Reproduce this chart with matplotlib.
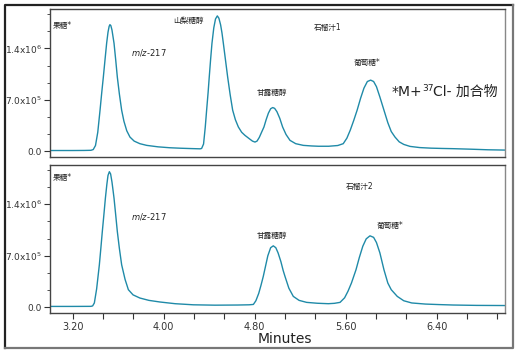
import matplotlib
matplotlib.use("Agg")
import matplotlib.pyplot as plt
from matplotlib.ticker import MultipleLocator, FixedLocator, FuncFormatter
from matplotlib.lines import Line2D

plt.rcParams['font.family'] = ['DejaVu Sans', 'Noto Sans CJK SC']

# chromatogram traces: time (min), intensity (x1e6)
t_top = [3.00, 3.20, 3.30, 3.36, 3.38, 3.40, 3.42, 3.44, 3.455, 3.469, 3.484, 3.498,
         3.51, 3.52, 3.527, 3.535, 3.545, 3.555, 3.563, 3.578, 3.592, 3.61, 3.63,
         3.65, 3.675, 3.703, 3.74, 3.79, 3.85, 3.95, 4.05, 4.15, 4.25, 4.32, 4.333,
         4.35, 4.365, 4.377, 4.39, 4.40, 4.412, 4.424, 4.44, 4.455, 4.471, 4.485,
         4.50, 4.512, 4.524, 4.543, 4.562, 4.584, 4.606, 4.63, 4.656, 4.685, 4.714,
         4.75, 4.78, 4.802, 4.82, 4.84, 4.86, 4.881, 4.90, 4.92, 4.94, 4.958, 4.975,
         4.995, 5.02, 5.045, 5.075, 5.11, 5.16, 5.227, 5.30, 5.36, 5.45, 5.53, 5.578,
         5.61, 5.64, 5.67, 5.70, 5.73, 5.76, 5.79, 5.819, 5.845, 5.87, 5.90, 5.936,
         5.97, 6.00, 6.033, 6.07, 6.11, 6.165, 6.25, 6.35, 6.45, 6.546, 6.70, 6.85, 7.00]
i_top = [0.012, 0.012, 0.013, 0.015, 0.025, 0.08, 0.26, 0.56, 0.80, 1.01, 1.25, 1.47,
         1.62, 1.70, 1.723, 1.71, 1.65, 1.55, 1.47, 1.24, 1.01, 0.78, 0.56,
         0.41, 0.28, 0.195, 0.14, 0.105, 0.082, 0.062, 0.050, 0.043, 0.038, 0.035, 0.04,
         0.10, 0.33, 0.56, 0.80, 1.01, 1.25, 1.47, 1.68, 1.80, 1.842, 1.81,
         1.72, 1.61, 1.47, 1.24, 1.01, 0.77, 0.56, 0.43, 0.332, 0.26, 0.218,
         0.175, 0.14, 0.127, 0.14, 0.19, 0.26, 0.332, 0.43, 0.52, 0.58, 0.596, 0.585,
         0.54, 0.45, 0.332, 0.23, 0.15, 0.105, 0.082, 0.074, 0.07, 0.07, 0.08, 0.105,
         0.18, 0.29, 0.42, 0.56, 0.72, 0.86, 0.95, 0.969, 0.95, 0.88, 0.74, 0.56,
         0.39, 0.27, 0.195, 0.13, 0.095, 0.068, 0.052, 0.044, 0.040, 0.037, 0.030, 0.022, 0.018]

t_bot = [3.00, 3.20, 3.36, 3.375, 3.39, 3.41, 3.434, 3.447, 3.46, 3.474, 3.487, 3.50,
         3.51, 3.522, 3.533, 3.545, 3.555, 3.563, 3.578, 3.592, 3.61, 3.63, 3.66,
         3.689, 3.73, 3.79, 3.87, 3.967, 4.10, 4.26, 4.45, 4.65, 4.75, 4.788, 4.81,
         4.835, 4.855, 4.875, 4.895, 4.915, 4.94, 4.963, 4.985, 5.005, 5.03, 5.05,
         5.066, 5.10, 5.139, 5.19, 5.256, 5.35, 5.447, 5.50, 5.55, 5.59, 5.62, 5.65,
         5.69, 5.72, 5.75, 5.78, 5.813, 5.845, 5.87, 5.90, 5.936, 5.97, 6.00, 6.053,
         6.11, 6.18, 6.30, 6.42, 6.546, 6.75, 7.00]
i_bot = [0.013, 0.013, 0.014, 0.02, 0.06, 0.25, 0.578, 0.80, 1.029, 1.26, 1.481, 1.67,
         1.79, 1.841, 1.81, 1.70, 1.58, 1.481, 1.25, 1.029, 0.80, 0.578, 0.38,
         0.24, 0.17, 0.127, 0.095, 0.073, 0.050, 0.035, 0.030, 0.032, 0.035, 0.04, 0.09,
         0.19, 0.30, 0.42, 0.56, 0.70, 0.81, 0.835, 0.81, 0.74, 0.62, 0.50,
         0.42, 0.26, 0.149, 0.095, 0.068, 0.056, 0.05, 0.055, 0.068, 0.13, 0.22, 0.33,
         0.51, 0.68, 0.83, 0.93, 0.971, 0.95, 0.88, 0.74, 0.51, 0.33, 0.24, 0.149,
         0.09, 0.06, 0.045, 0.038, 0.032, 0.027, 0.025]

x_ticks = [3.20, 4.00, 4.80, 5.60, 6.40]
y_ticks = [0.0, 7.0e5, 1.4e6]
y_labels = ["0.0", r"7.0x10$^5$", r"1.4x10$^6$"]

# peak labels: (text, time, intensity x1e6, alignment)
labels_top = [("果糖*", 3.026, 1.706, 'left'), ("山梨糖醇", 4.213, 1.774, 'center'),
              ("甘露糖醇", 4.95, 0.805, 'center'), ("葡萄糖*", 5.79, 1.214, 'center'),
              ("石榴汁1", 5.444, 1.69, 'center')]
labels_bot = [("果糖*", 3.026, 1.756, 'left'), ("甘露糖醇", 4.947, 0.971, 'center'),
              ("葡萄糖*", 5.99, 1.106, 'center'), ("石榴汁2", 5.72, 1.634, 'center')]
mz_pos = [(3.87, 1.35), (3.87, 1.228)]

line_color = '#1f8aa8'
fig = plt.figure(figsize=(5.18, 3.53), dpi=100)

# outer frame
fig.add_artist(Line2D([0.0097, 0.0097, 0.990], [0.014, 0.986, 0.986], color='#222222', lw=1.6))
fig.add_artist(Line2D([0.0097, 0.990, 0.990], [0.014, 0.014, 0.986], color='#777777', lw=1.6))

ax_top = fig.add_axes([0.0965, 0.5561, 0.8784, 0.4176])
ax_bot = fig.add_axes([0.0965, 0.1142, 0.8784, 0.4184])


def fmt_y(v, pos):
    for tv, tl in zip(y_ticks, y_labels):
        if abs(v - tv) < 1:
            return tl
    return ""


for ax, t, inten, labels, mz in [(ax_top, t_top, i_top, labels_top, mz_pos[0]),
                                 (ax_bot, t_bot, i_bot, labels_bot, mz_pos[1])]:
    ax.plot(t, [v * 1e6 for v in inten], color=line_color, lw=1.0)
    ax.set_xlim(3.0, 7.0)
    ax.set_ylim(-0.072e6, 1.932e6)
    ax.yaxis.set_major_locator(FixedLocator(y_ticks))
    ax.yaxis.set_major_formatter(FuncFormatter(fmt_y))
    ax.yaxis.set_minor_locator(MultipleLocator(7e5 / 3))
    ax.tick_params(axis='y', which='major', direction='out', length=4, width=0.8,
                   labelsize=6.5, colors='#333333', pad=2)
    ax.tick_params(axis='y', which='minor', direction='out', length=2.5, width=0.6, colors='#333333')
    for sp in ax.spines.values():
        sp.set_color('#444444')
        sp.set_linewidth(1.0)
    ax.spines['right'].set_color('#888888')
    for txt, x, y, ha in labels:
        ax.text(x, y * 1e6, txt, fontsize=5.5, ha=ha, va='center', color='#222222')
    ax.text(mz[0], mz[1] * 1e6, r"$m/z$-217", fontsize=6, ha='center', va='center',
            color='#222222')

ax_top.set_xticks([])
ax_bot.xaxis.set_major_locator(FixedLocator(x_ticks))
ax_bot.xaxis.set_major_formatter(FuncFormatter(lambda v, p: f"{v:.2f}"))
ax_bot.xaxis.set_minor_locator(MultipleLocator(0.8 / 3))
ax_bot.tick_params(axis='x', which='major', direction='out', length=4, width=0.8,
                   labelsize=7, colors='#333333', pad=3)
ax_bot.tick_params(axis='x', which='minor', direction='out', length=4, width=0.8, colors='#333333')

fig.text(285 / 518, 1 - 339 / 353, "Minutes", fontsize=10, ha='center', va='center', color='#222222')

# adduct note: *M+37Cl- 加合物 built from pieces so the CJK glyphs render
fig.canvas.draw()
renderer = fig.canvas.get_renderer()
t1 = ax_top.text(6.007, 0.805e6, "*M+", fontsize=10, ha='left', va='center', color='#222222')
bb = t1.get_window_extent(renderer)
inv = ax_top.transData.inverted()
x2, _ = inv.transform((bb.x1 - 0.5, 0))
t2 = ax_top.text(x2, 0.86e6, "37", fontsize=6.5, ha='left', va='center', color='#222222')
bb2 = t2.get_window_extent(renderer)
x3, _ = inv.transform((bb2.x1 - 0.5, 0))
ax_top.text(x3, 0.805e6, "Cl- 加合物", fontsize=10, ha='left', va='center', color='#222222')

fig.savefig("out.png", dpi=100)
